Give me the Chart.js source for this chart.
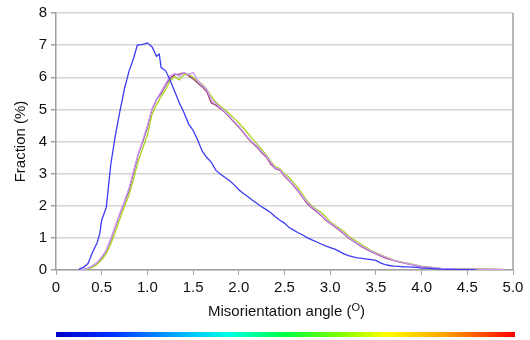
<!DOCTYPE html>
<html><head><meta charset="utf-8">
<script src="https://cdn.jsdelivr.net/npm/chart.js@4/dist/chart.umd.min.js"></script>
<style>html,body{margin:0;padding:0;background:#fff}#wrap{width:530px;height:340px}</style>
</head><body><div id="wrap"><canvas id="c" width="530" height="340"></canvas></div>
<script>
const blueX = [0.25,0.30,0.35,0.40,0.45,0.48,0.50,0.55,0.60,0.65,0.70,0.75,0.80,0.85,0.89,0.95,1.00,1.05,1.10,1.13,1.15,1.20,1.25,1.30,1.35,1.40,1.45,1.50,1.55,1.60,1.65,1.70,1.75,1.80,1.85,1.90,1.95,2.00,2.05,2.10,2.15,2.20,2.25,2.30,2.35,2.40,2.45,2.50,2.55,2.60,2.65,2.70,2.75,2.80,2.85,2.90,2.95,3.00,3.05,3.10,3.15,3.20,3.25,3.30,3.35,3.40,3.45,3.50,3.55,3.60,3.65,3.70,3.75,3.80,3.85,3.90,3.95,4.00,4.10,4.20,4.30,4.40,4.50,4.60];
const blueY = [0.03,0.08,0.2,0.55,0.85,1.15,1.55,1.95,3.3,4.2,4.95,5.65,6.2,6.6,7.0,7.02,7.07,6.95,6.65,6.72,6.3,6.2,5.9,5.55,5.2,4.9,4.55,4.35,4.05,3.7,3.5,3.35,3.1,2.98,2.88,2.78,2.65,2.5,2.38,2.28,2.17,2.07,1.97,1.88,1.78,1.66,1.55,1.46,1.32,1.24,1.16,1.09,1.0,0.94,0.88,0.81,0.75,0.7,0.65,0.58,0.5,0.45,0.41,0.38,0.36,0.34,0.32,0.3,0.22,0.17,0.14,0.12,0.11,0.1,0.1,0.09,0.08,0.06,0.05,0.03,0.02,0.01,0.01,0.0];

const angleX = [0.25,0.30,0.35,0.40,0.45,0.50,0.55,0.60,0.65,0.70,0.75,0.80,0.85,0.90,0.95,1.00,1.05,1.10,1.15,1.20,1.25,1.30,1.35,1.40,1.45,1.50,1.55,1.60,1.65,1.70,1.75,1.80,1.85,1.90,1.95,2.00,2.05,2.10,2.15,2.20,2.25,2.30,2.35,2.40,2.45,2.50,2.55,2.60,2.65,2.70,2.75,2.80,2.85,2.90,2.95,3.00,3.05,3.10,3.15,3.20,3.25,3.30,3.35,3.40,3.45,3.50,3.55,3.60,3.65,3.70,3.75,3.80,3.85,3.90,3.95,4.00,4.10,4.20,4.30,4.40,4.50,4.60,4.70,4.80,4.90];
const purpleY = [0.0,0.02,0.05,0.12,0.22,0.38,0.6,0.95,1.35,1.75,2.12,2.5,3.05,3.6,4.0,4.45,5.0,5.3,5.5,5.75,5.98,6.08,6.1,6.14,6.05,5.95,5.82,5.7,5.55,5.2,5.13,5.02,4.9,4.75,4.6,4.45,4.28,4.1,3.95,3.82,3.65,3.52,3.3,3.15,3.1,2.92,2.78,2.62,2.45,2.25,2.06,1.93,1.82,1.7,1.56,1.45,1.35,1.24,1.12,1.0,0.9,0.8,0.72,0.64,0.56,0.5,0.44,0.38,0.33,0.29,0.25,0.22,0.19,0.16,0.13,0.1,0.07,0.05,0.03,0.03,0.03,0.03,0.02,0.02,0.01];
const lavenderY = [0.0,0.02,0.05,0.13,0.23,0.4,0.62,0.98,1.38,1.78,2.15,2.55,3.1,3.62,4.05,4.5,5.02,5.32,5.55,5.8,6.05,6.12,6.02,6.15,6.08,6.15,5.9,5.75,5.62,5.3,5.18,5.05,4.92,4.78,4.62,4.48,4.3,4.12,3.98,3.85,3.68,3.55,3.35,3.18,3.12,2.95,2.8,2.65,2.48,2.28,2.1,1.96,1.85,1.72,1.58,1.47,1.37,1.26,1.14,1.02,0.92,0.82,0.74,0.66,0.58,0.52,0.46,0.4,0.35,0.3,0.26,0.23,0.2,0.17,0.14,0.11,0.08,0.05,0.04,0.03,0.03,0.03,0.02,0.02,0.01];
const greenY = [0.0,0.01,0.03,0.09,0.18,0.32,0.52,0.82,1.2,1.6,1.98,2.35,2.85,3.4,3.8,4.2,4.85,5.15,5.4,5.62,5.9,6.02,5.92,6.08,6.1,6.0,5.88,5.78,5.62,5.4,5.22,5.1,4.98,4.85,4.72,4.58,4.42,4.25,4.08,3.92,3.75,3.58,3.38,3.22,3.15,3.0,2.88,2.72,2.55,2.35,2.14,2.0,1.88,1.8,1.66,1.5,1.4,1.3,1.2,1.06,0.96,0.87,0.78,0.69,0.6,0.54,0.48,0.42,0.36,0.31,0.27,0.24,0.21,0.18,0.15,0.12,0.09,0.05,0.03,0.03,0.03,0.03,0.03,0.02,0.02];

const xTicks = [0,0.5,1.0,1.5,2.0,2.5,3.0,3.5,4.0,4.5,5.0];
const yTicks = [0,1,2,3,4,5,6,7,8];
const xTitle = 'Misorientation angle (';
const xTitleSup = 'O';
const yTitle = 'Fraction (%)';

function pts(xs, ys){ return xs.map((x,i)=>({x:x,y:ys[i]})); }

const FONT = "'Liberation Sans', Arial, sans-serif";

const deco = {
  id:'deco',
  afterDraw(chart){
    const ctx = chart.ctx, a = chart.chartArea;
    ctx.save();
    ctx.strokeStyle = '#a0a0a0'; ctx.lineWidth = 1.5;
    ctx.beginPath(); ctx.moveTo(a.right, a.top); ctx.lineTo(a.right, a.bottom); ctx.stroke();
    // x title with superscript
    ctx.fillStyle = '#111';
    ctx.font = '15px ' + FONT;
    ctx.textBaseline = 'alphabetic';
    const w1 = ctx.measureText(xTitle).width;
    ctx.font = '11px ' + FONT;
    const w2 = ctx.measureText(xTitleSup).width;
    ctx.font = '15px ' + FONT;
    const w3 = ctx.measureText(')').width;
    const total = w1 + w2 + w3;
    const cx = (a.left + a.right) / 2 + 2;
    let x0 = cx - total/2; const by = 316;
    ctx.fillText(xTitle, x0, by);
    ctx.font = '11px ' + FONT;
    ctx.fillText(xTitleSup, x0 + w1, by - 5);
    ctx.font = '15px ' + FONT;
    ctx.fillText(')', x0 + w1 + w2, by);
    // colour bar
    const g = ctx.createLinearGradient(56, 0, 515, 0);
    g.addColorStop(0, '#0000c8');
    g.addColorStop(0.12, '#0030ff');
    g.addColorStop(0.3, '#00c8ff');
    g.addColorStop(0.38, '#00ffe0');
    g.addColorStop(0.5, '#00ff40');
    g.addColorStop(0.62, '#80ff00');
    g.addColorStop(0.72, '#ffff00');
    g.addColorStop(0.85, '#ffa000');
    g.addColorStop(1, '#ff0000');
    ctx.fillStyle = g;
    ctx.fillRect(56, 332, 459, 5);
    ctx.restore();
  }
};

new Chart(document.getElementById('c'), {
  type: 'line',
  data: {
    datasets: [
      {label:'blue', data: pts(blueX, blueY), borderColor:'#3c3cf5'},
      {label:'lavender', data: pts(angleX, lavenderY), borderColor:'#cc99ff'},
      {label:'green', data: pts(angleX, greenY), borderColor:'#a6d21e'},
      {label:'purple', data: pts(angleX, purpleY), borderColor:'#9c3a78'}
    ].map(d=>Object.assign(d,{borderWidth:1.3, pointRadius:0, tension:0, fill:false}))
  },
  options: {
    responsive:false, animation:false, devicePixelRatio:1,
    layout:{padding:{top:12, right:17, left:0, bottom:0}},
    plugins:{legend:{display:false}, tooltip:{enabled:false}},
    scales:{
      x:{type:'linear', min:0, max:5,
        afterBuildTicks(s){ s.ticks = xTicks.map(v=>({value:v})); },
        afterFit(s){ s.height = 70; },
        grid:{drawOnChartArea:false, drawTicks:true, tickLength:5, tickColor:'#a0a0a0'},
        border:{color:'#a0a0a0', width:1.5},
        ticks:{padding:4, color:'#111', font:{family:FONT, size:15}, maxRotation:0,
          callback:(v)=> v===0 ? '0' : Number(v).toFixed(1)}
      },
      y:{type:'linear', min:0, max:8,
        afterBuildTicks(s){ s.ticks = yTicks.map(v=>({value:v})); },
        afterFit(s){ s.width = 56; },
        grid:{color:'#d4d4d4', lineWidth:1.5, tickLength:5, tickColor:'#a0a0a0'},
        border:{color:'#a0a0a0', width:1.5},
        ticks:{padding:4, color:'#111', font:{family:FONT, size:15}},
        title:{display:true, text:yTitle, color:'#111', font:{family:FONT, size:15}, padding:{top:12,bottom:4}}
      }
    }
  },
  plugins:[deco]
});
</script></body></html>
